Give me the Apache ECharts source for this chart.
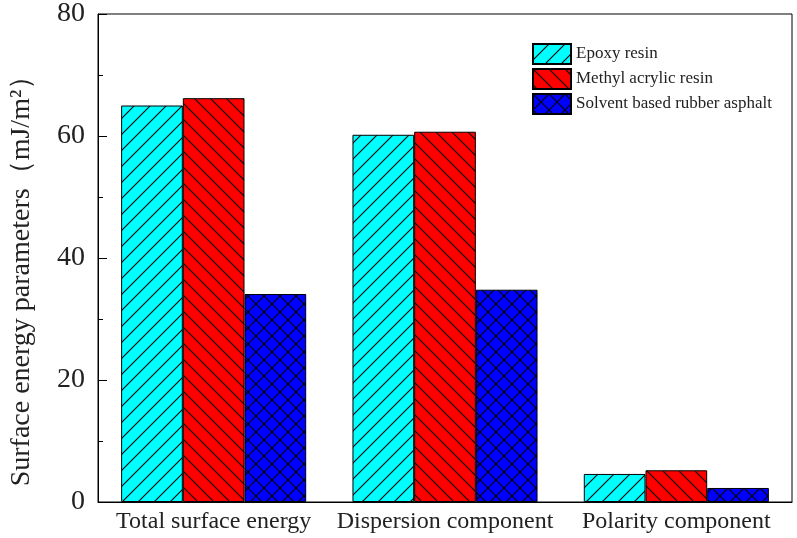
<!DOCTYPE html>
<html lang="en">
<head>
    <meta charset="UTF-8">
    <title>Surface energy parameters</title>
    <script src="https://cdn.jsdelivr.net/npm/echarts@6/dist/echarts.min.js"></script>
    <style>
        html, body { margin: 0; padding: 0; background: #fff; }
        #chart { width: 797px; height: 538px; }
    </style>
</head>
<body>
<div id="chart"></div>
<script>
    // data
    var categories = ['Total surface energy', 'Dispersion component', 'Polarity component'];
    var seriesNames = ['Epoxy resin', 'Methyl acrylic resin', 'Solvent based rubber asphalt'];
    var epoxy = [65.0, 60.2, 4.6];
    var methyl = [66.2, 60.7, 5.2];
    var asphalt = [34.1, 34.8, 2.3];
    var yTicks = [0, 20, 40, 60, 80];

    // hatch fill patterns
    function hatch(bg, kind) {
        var s = 16;
        var c = document.createElement('canvas');
        c.width = s; c.height = s;
        var ctx = c.getContext('2d');
        ctx.fillStyle = bg;
        ctx.fillRect(0, 0, s, s);
        ctx.strokeStyle = '#000';
        ctx.lineWidth = 1.1;
        ctx.beginPath();
        if (kind == 'fwd' || kind == 'cross') {
            ctx.moveTo(-2, s + 2); ctx.lineTo(s + 2, -2);
            ctx.moveTo(-2, 2); ctx.lineTo(2, -2);
            ctx.moveTo(s - 2, s + 2); ctx.lineTo(s + 2, s - 2);
        }
        if (kind == 'back' || kind == 'cross') {
            ctx.moveTo(-2, -2); ctx.lineTo(s + 2, s + 2);
            ctx.moveTo(s - 2, -2); ctx.lineTo(s + 2, 2);
            ctx.moveTo(-2, s - 2); ctx.lineTo(2, s + 2);
        }
        ctx.stroke();
        return { image: c, repeat: 'repeat' };
    }

    var font = '"Liberation Serif", "Times New Roman", serif';

    function bar(name, data, fill) {
        return {
            name: name,
            type: 'bar',
            data: data,
            barGap: 0,
            barCategoryGap: '20%',
            itemStyle: { color: fill, borderColor: '#000', borderWidth: 1 }
        };
    }

    var option = {
        animation: false,
        grid: {
            left: 96, right: 5, top: 14, bottom: 36,
            show: true, borderColor: '#000', borderWidth: 1
        },
        legend: {
            orient: 'vertical',
            left: 527, top: 38,
            itemWidth: 38, itemHeight: 20, itemGap: 3,
            icon: 'rect',
            textStyle: { fontFamily: font, fontSize: 17, color: '#222' },
            data: seriesNames
        },
        xAxis: {
            type: 'category',
            data: categories,
            axisLine: { lineStyle: { color: '#000', width: 1 } },
            axisTick: { inside: true, length: 5, lineStyle: { color: '#000' } },
            axisLabel: { interval: 0, fontFamily: font, fontSize: 24, color: '#222', margin: 8 }
        },
        yAxis: {
            type: 'value',
            min: 0, max: 80, interval: 20,
            name: 'Surface energy parameters（mJ/m²）',
            nameLocation: 'middle',
            nameGap: 62,
            nameTextStyle: { fontFamily: font, fontSize: 28, color: '#222', padding: [0, 32, 0, 0] },
            axisLine: { show: true, lineStyle: { color: '#000', width: 1 } },
            axisTick: { show: true, inside: true, length: 9, lineStyle: { color: '#000' } },
            minorTick: { show: true, splitNumber: 2, length: 5, lineStyle: { color: '#000' } },
            splitLine: { show: false },
            axisLabel: {
                fontFamily: font, fontSize: 28, color: '#222', margin: 13,
                formatter: function (v) { return yTicks.indexOf(v) >= 0 ? String(v) : ''; }
            }
        },
        series: [
            bar(seriesNames[0], epoxy, hatch('#00FFFF', 'fwd')),
            bar(seriesNames[1], methyl, hatch('#FF0000', 'back')),
            bar(seriesNames[2], asphalt, hatch('#0000FF', 'cross'))
        ]
    };

    var myChart = echarts.init(document.getElementById('chart'));
    myChart.setOption(option);
</script>
</body>
</html>
